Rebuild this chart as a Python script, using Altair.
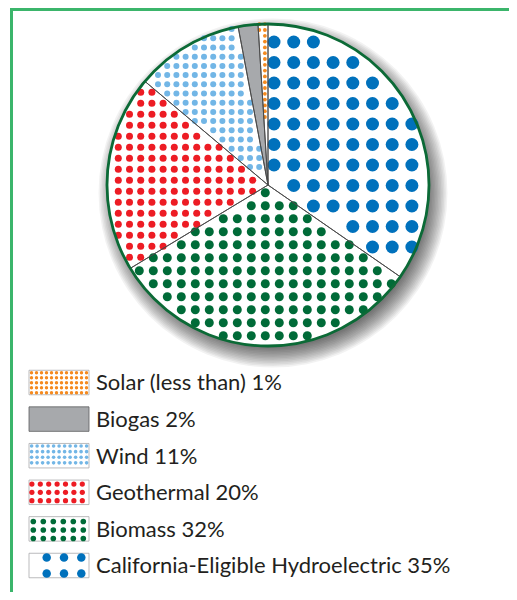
import math
import altair as alt
import pandas as pd

# ---------------- data ----------------
categories = ["Solar (less than)", "Biogas", "Wind", "Geothermal", "Biomass",
              "California-Eligible Hydroelectric"]
shares = [1, 2, 11, 20, 32, 35]
# clockwise order of the slices, starting at 12 o'clock
pie_order = ["California-Eligible Hydroelectric", "Biomass", "Geothermal", "Wind",
             "Biogas", "Solar (less than)"]

# ---------------- styles ----------------
W, H = 501, 584
CX, CY, R = 260, 177, 161
FONT = "Lato"
dot_color = {
    "Solar (less than)": "#f58a1f",
    "Biogas": "#a7a9ac",
    "Wind": "#72b6e6",
    "Geothermal": "#ed1c24",
    "Biomass": "#006b38",
    "California-Eligible Hydroelectric": "#0071bc",
}
slice_fill = {c: "#ffffff" for c in categories}
slice_fill["Biogas"] = "#a7a9ac"
# pie pattern: spacing x, spacing y, grid origin x, y, dot diameter
pie_pattern = {
    "California-Eligible Hydroelectric": (19.7, 20.5, 266.0, 34.0, 13.0),
    "Biomass": (14.0, 13.0, 145.3, 223.7, 9.0),
    "Geothermal": (11.2, 11.0, 110.3, 216.3, 7.0),
    "Wind": (9.2, 9.2, 196.0, 30.3, 6.0),
    "Solar (less than)": (5.6, 5.8, 251.3, 22.0, 3.8),
}
# legend pattern: spacing x, spacing y, dot diameter, first dot offset x, y
legend_pattern = {
    "Solar (less than)": (5.0, 5.0, 3.4, 2.5, 2.5),
    "Wind": (5.5, 5.6, 3.6, 2.6, 2.6),
    "Geothermal": (8.4, 8.3, 5.2, 2.9, 4.0),
    "Biomass": (10.0, 8.5, 5.6, 4.3, 4.8),
    "California-Eligible Hydroelectric": (17.3, 16.0, 8.5, 17.7, 4.2),
}
LEG_X0, LEG_W, LEG_TOP, LEG_STEP, LEG_H = 21, 60, 374.5, 36.6, 24.5
TEXT_X = 88
FONT_SIZE = 22


def sym_size(diameter):
    # Vega circle symbols have radius sqrt(size) / 2
    return diameter * diameter


xs = alt.Scale(domain=[0, W], nice=False, zero=False)
ys = alt.Scale(domain=[0, H], nice=False, zero=False, reverse=True)

share_of = dict(zip(categories, shares))
total = float(sum(shares))

# slice angle bounds (degrees clockwise from top)
bounds = {}
acc = 0.0
for c in pie_order:
    a0 = acc / total * 360.0
    acc += share_of[c]
    bounds[c] = (a0, acc / total * 360.0)

# ---------------- pie slices ----------------
pie_df = pd.DataFrame({
    "cat": pie_order,
    "share": [share_of[c] for c in pie_order],
    "ord": list(range(len(pie_order))),
    "fill": [slice_fill[c] for c in pie_order],
})

# ---------------- texture dots inside slices ----------------
rows = []
for c in pie_order:
    if c not in pie_pattern:
        continue
    sx, sy, ox, oy, d = pie_pattern[c]
    a0, a1 = bounds[c]
    kx0 = math.floor((CX - R - ox) / sx)
    kx1 = math.ceil((CX + R - ox) / sx)
    ky0 = math.floor((CY - R - oy) / sy)
    ky1 = math.ceil((CY + R - oy) / sy)
    for kx in range(kx0, kx1 + 1):
        x = ox + kx * sx
        for ky in range(ky0, ky1 + 1):
            y = oy + ky * sy
            dx, dy = x - CX, y - CY
            r = math.hypot(dx, dy)
            if r > R - d / 2 + 2.2 or r < 1e-6:
                continue
            a = math.degrees(math.atan2(dx, -dy)) % 360.0
            if not (a0 <= a < a1):
                continue
            m = d * 0.25
            if (a - a0) < 90 and r * math.sin(math.radians(a - a0)) < m:
                continue
            if (a1 - a) < 90 and r * math.sin(math.radians(a1 - a)) < m:
                continue
            rows.append({"x": x, "y": y, "size": sym_size(d),
                         "col": dot_color[c]})
dots_df = pd.DataFrame(rows)

# ---------------- legend ----------------
leg_rows, leg_dots = [], []
for i, c in enumerate(categories):
    yc = LEG_TOP + i * LEG_STEP
    top = yc - LEG_H / 2
    leg_rows.append({
        "x": LEG_X0, "x2": LEG_X0 + LEG_W, "y": top, "y2": top + LEG_H,
        "fill": slice_fill[c], "stroke": "#5d5e60" if c == "Biogas" else "#a9aaac",
        "ty": yc + 0.36 * FONT_SIZE, "label": f"{c} {share_of[c]}%",
    })
    if c in legend_pattern:
        sx, sy, d, ox, oy = legend_pattern[c]
        x = LEG_X0 + ox
        while x + d / 2 <= LEG_X0 + LEG_W + 0.6:
            y = top + oy
            while y + d / 2 <= top + LEG_H + 0.6:
                leg_dots.append({"x": x, "y": y, "size": sym_size(d),
                                 "col": dot_color[c]})
                y += sy
            x += sx
leg_df = pd.DataFrame(leg_rows)
leg_dots_df = pd.DataFrame(leg_dots)

# ---------------- layers ----------------
frame_top = alt.Chart(pd.DataFrame({"a": [0]})).mark_rule(
    color="#3bb56b", strokeWidth=3).encode(
    x=alt.value(3), x2=alt.value(W), y=alt.value(1.5))
frame_left = alt.Chart(pd.DataFrame({"a": [0]})).mark_rule(
    color="#3bb56b", strokeWidth=3).encode(
    x=alt.value(3.5), y=alt.value(0), y2=alt.value(H))

shadow_radii = [R - 6 + 1.5 * k for k in range(14)]
shadow_df = pd.DataFrame({"s": [sym_size(2 * r) for r in shadow_radii]})
shadow = alt.Chart(shadow_df).mark_circle(color="#000000", opacity=0.05).encode(
    x=alt.value(CX + 5), y=alt.value(CY + 8), size=alt.Size("s:Q", scale=None))

slices = alt.Chart(pie_df).mark_arc(outerRadius=R, strokeWidth=0).encode(
    theta=alt.Theta("share:Q", stack=True),
    order=alt.Order("ord:Q"),
    color=alt.Color("fill:N", scale=None),
    x=alt.value(CX), y=alt.value(CY))

dots = alt.Chart(dots_df).mark_circle(opacity=1, strokeWidth=0).encode(
    x=alt.X("x:Q", scale=xs, axis=None),
    y=alt.Y("y:Q", scale=ys, axis=None),
    size=alt.Size("size:Q", scale=None),
    color=alt.Color("col:N", scale=None))

separators = alt.Chart(pie_df).mark_arc(
    outerRadius=R, fillOpacity=0, stroke="#4a4a4a", strokeWidth=0.9).encode(
    theta=alt.Theta("share:Q", stack=True),
    order=alt.Order("ord:Q"),
    x=alt.value(CX), y=alt.value(CY))

ring = alt.Chart(pd.DataFrame({"s": [sym_size(2 * R)]})).mark_circle(
    filled=False, stroke="#0b6a36", strokeWidth=2.8, opacity=1).encode(
    x=alt.value(CX), y=alt.value(CY), size=alt.Size("s:Q", scale=None))

swatches = alt.Chart(leg_df).mark_rect(strokeWidth=0.8).encode(
    x=alt.X("x:Q", scale=xs, axis=None), x2="x2:Q",
    y=alt.Y("y:Q", scale=ys, axis=None), y2="y2:Q",
    color=alt.Color("fill:N", scale=None),
    stroke=alt.Stroke("stroke:N", scale=None))

swatch_dots = alt.Chart(leg_dots_df).mark_circle(opacity=1, strokeWidth=0).encode(
    x=alt.X("x:Q", scale=xs, axis=None),
    y=alt.Y("y:Q", scale=ys, axis=None),
    size=alt.Size("size:Q", scale=None),
    color=alt.Color("col:N", scale=None))

labels = alt.Chart(leg_df).mark_text(
    align="left", baseline="alphabetic", font=FONT, fontSize=FONT_SIZE,
    color="#231f20").encode(
    x=alt.value(TEXT_X),
    y=alt.Y("ty:Q", scale=ys, axis=None),
    text="label:N")

chart = alt.layer(
    frame_top, frame_left, shadow, slices, dots, separators, ring,
    swatches, swatch_dots, labels
).properties(
    width=W, height=H, autosize=alt.AutoSizeParams(type="none"), padding=0
).configure_view(stroke=None)

chart.save("out.html", embed_options={"renderer": "svg", "actions": False})
